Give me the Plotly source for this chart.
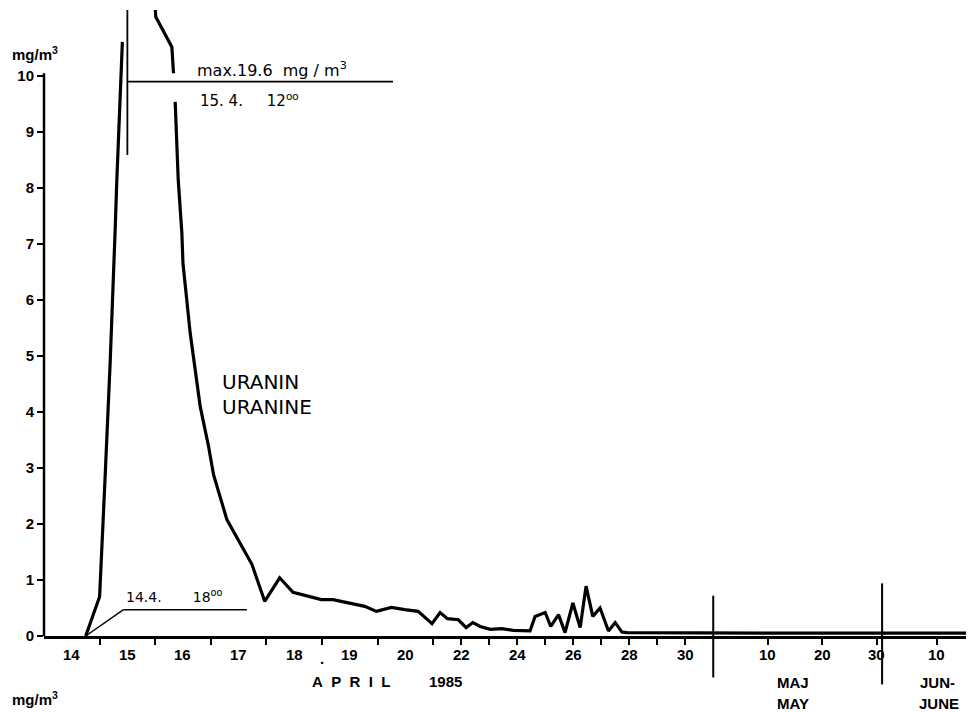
import numpy as np
import plotly.graph_objects as go

# Uranine (Uranin) breakthrough, spring 1985.
# Time t is counted in days from 1 April 1985 00:00 (t = 31 -> 1 May, t = 62 -> 1 June).

# rising limb up to the cut-off at the top of the frame
t_rise = [14.75, 15.00, 15.10, 15.19, 15.28, 15.31, 15.41]
c_rise = [0.00, 0.70, 2.85, 4.88, 7.25, 8.14, 10.61]

# maximum (15.4. 12:00)
PEAK_T = 15.5
PEAK_C = 19.6

# falling limb and tail
t_fall = [16.01, 16.30, 16.33, 16.36, 16.415, 16.48, 16.50, 16.63, 16.75, 16.81,
          16.96, 17.05, 17.29, 17.74, 17.97, 18.24, 18.48, 18.99, 19.20, 19.47,
          19.77, 19.98, 20.25, 20.49, 20.73, 20.98, 21.25, 21.51, 21.90, 22.18,
          22.42, 22.68, 23.04, 23.45, 23.87, 24.46, 24.64, 25.00, 25.20, 25.48,
          25.71, 25.99, 26.25, 26.46, 26.70, 26.96, 27.26, 27.50, 27.74, 27.92,
          31.0, 45.0, 62.0, 77.4]
c_fall = [11.06, 10.52, 10.05, 9.54, 8.14, 7.20, 6.66, 5.41, 4.52, 4.10,
          3.39, 2.88, 2.08, 1.28, 0.62, 1.04, 0.78, 0.65, 0.65, 0.59,
          0.53, 0.44, 0.51, 0.47, 0.44, 0.22, 0.42, 0.31, 0.29, 0.15,
          0.24, 0.17, 0.12, 0.13, 0.10, 0.09, 0.35, 0.42, 0.17, 0.38,
          0.06, 0.59, 0.15, 0.89, 0.35, 0.50, 0.09, 0.24, 0.07, 0.06,
          0.05, 0.05, 0.05, 0.05]
GAP_AFTER = 16.33          # line interrupted where the max marker crosses it

# first arrival (14.4. 18:00)
ARRIVAL_T = 14.75

# axis labelling
y_ticks = list(range(0, 11))
april_wide_days = [14, 15, 16, 17, 18, 19, 20]      # one label per day interval
april_narrow_days = [22, 24, 26, 28, 30]            # labels on the day ticks
may_days = [10, 20, 30]
june_days = [10]

# broken time scale: day length differs between the sections
BREAKS_T = [14.0, 21.0, 31.0, 80.0]
DAY_SCALE = [1.0, 0.504, 0.098]
BREAKS_X = np.concatenate([[0.0], np.cumsum(np.diff(BREAKS_T) * np.array(DAY_SCALE))])
T_END = 77.4
Y_TOP = 11.18


def warp(t):
    return float(np.interp(t, BREAKS_T, BREAKS_X))


X_END = warp(T_END)


def build_series():
    xs, ys = [], []
    for t, c in zip(t_rise, c_rise):
        xs.append(warp(t)); ys.append(c)
    xs.append(None); ys.append(None)
    xs.append(warp(PEAK_T)); ys.append(PEAK_C)
    for t, c in zip(t_fall, c_fall):
        xs.append(warp(t)); ys.append(c)
        if t == GAP_AFTER:
            xs.append(None); ys.append(None)
    return xs, ys


xs, ys = build_series()

fig = go.Figure()
fig.add_trace(go.Scatter(x=xs, y=ys, mode="lines",
                         line=dict(color="black", width=3.2),
                         connectgaps=False, hoverinfo="skip", showlegend=False))

tick_days = list(range(15, 31)) + [31 + d for d in may_days] + [62 + d for d in june_days]

AX_FONT = dict(family="Liberation Sans, Arial, sans-serif", size=15, color="black",
               weight="bold")
TXT_FONT = dict(family="DejaVu Sans, sans-serif", size=15, color="black")

fig.update_layout(
    width=969, height=712,
    margin=dict(l=44, r=3, t=10, b=76),
    paper_bgcolor="white", plot_bgcolor="white",
    showlegend=False,
    xaxis=dict(range=[0, X_END], showgrid=False, zeroline=False,
               showline=True, linecolor="black", linewidth=2.5,
               tickmode="array", tickvals=[warp(d) for d in tick_days],
               ticks="outside", ticklen=6, tickwidth=2, tickcolor="black",
               showticklabels=False),
    yaxis=dict(range=[0, Y_TOP], showgrid=False, zeroline=False, showline=False,
               tickmode="array", tickvals=y_ticks, ticktext=[str(v) for v in y_ticks],
               ticks="outside", ticklen=6, tickwidth=2, tickcolor="black",
               tickfont=AX_FONT),
)

shapes = []
# y axis line from 0 to 10
shapes.append(dict(type="line", xref="paper", yref="y", x0=0, x1=0, y0=0, y1=10.05,
                   line=dict(color="black", width=2.5)))
# maximum marker
shapes.append(dict(type="line", xref="x", yref="y", x0=warp(PEAK_T), x1=warp(PEAK_T),
                   y0=8.59, y1=Y_TOP, line=dict(color="black", width=1.8)))
shapes.append(dict(type="line", xref="x", yref="y", x0=warp(PEAK_T), x1=warp(20.28),
                   y0=9.9, y1=9.9, line=dict(color="black", width=1.8)))
# first arrival pointer
shapes.append(dict(type="line", xref="x", yref="y", x0=warp(ARRIVAL_T), x1=warp(15.43),
                   y0=0, y1=0.47, line=dict(color="black", width=1.4)))
shapes.append(dict(type="line", xref="x", yref="y", x0=warp(15.43), x1=warp(17.65),
                   y0=0.47, y1=0.47, line=dict(color="black", width=1.4)))
# month separators
shapes.append(dict(type="line", xref="x", yref="paper", x0=warp(31), x1=warp(31),
                   y0=-0.74 / Y_TOP, y1=0.72 / Y_TOP, line=dict(color="black", width=2)))
shapes.append(dict(type="line", xref="x", yref="paper", x0=warp(62), x1=warp(62),
                   y0=-0.865 / Y_TOP, y1=0.94 / Y_TOP, line=dict(color="black", width=2)))
fig.update_layout(shapes=shapes)

ann = []


def label(text, t_pos, y, font=AX_FONT, xanchor="center", x_is_warped=False):
    """Place a text in paper coordinates given a time (or warped x) and a concentration."""
    x = t_pos if x_is_warped else warp(t_pos)
    ann.append(dict(text=text, x=x / X_END, y=y / Y_TOP, xref="paper", yref="paper",
                    showarrow=False, xanchor=xanchor, yanchor="middle", font=font))


LBL_Y = -0.33
for d in april_wide_days:
    label(str(d), d + 0.5, LBL_Y)
for d in april_narrow_days:
    label(str(d), d, LBL_Y)
for d in may_days:
    label(str(d), 31 + d, LBL_Y)
for d in june_days:
    label(str(d), 62 + d, LBL_Y)
label(".", 19.0, -0.40)

NB = "\u00a0"
label(f"A{NB*2}P{NB*2}R{NB*2}I{NB*2}L", 19.53, -0.81)
label("1985", 21.46, -0.81)
label("MAJ", 31 + (793 - 713) / 5.45, -0.83)
label("MAY", 31 + (793 - 713) / 5.45, -1.21)
label("JUN-", 62 + 10.2, -0.83)
label("JUNE", 62 + 10.5, -1.21)

# units
unit_font = dict(family="Liberation Sans, Arial, sans-serif", size=15, color="black",
                 weight="bold")
label("mg/m<sup>3</sup>", -0.612, 10.40, font=unit_font, xanchor="left", x_is_warped=True)
label("mg/m<sup>3</sup>", -0.612, -1.12, font=unit_font, xanchor="left", x_is_warped=True)

# annotations in the plot
label(f"max.19.6{NB*2}mg{NB}/{NB}m<sup>3</sup>", 16.72, 10.12,
      font=dict(family="DejaVu Sans, sans-serif", size=16, color="black"), xanchor="left")
label(f"15.{NB}4.{NB*5}12<sup>oo</sup>", 16.77, 9.57, font=TXT_FONT, xanchor="left")
label(f"14.4.{NB*7}18<sup>oo</sup>", 15.44, 0.72,
      font=dict(family="DejaVu Sans, sans-serif", size=14, color="black"), xanchor="left")
big = dict(family="DejaVu Sans, sans-serif", size=20, color="black")
label("URANIN", 17.17, 4.54, font=big, xanchor="left")
label("URANINE", 17.17, 4.09, font=big, xanchor="left")

fig.update_layout(annotations=ann)
fig.write_html("out.html")
